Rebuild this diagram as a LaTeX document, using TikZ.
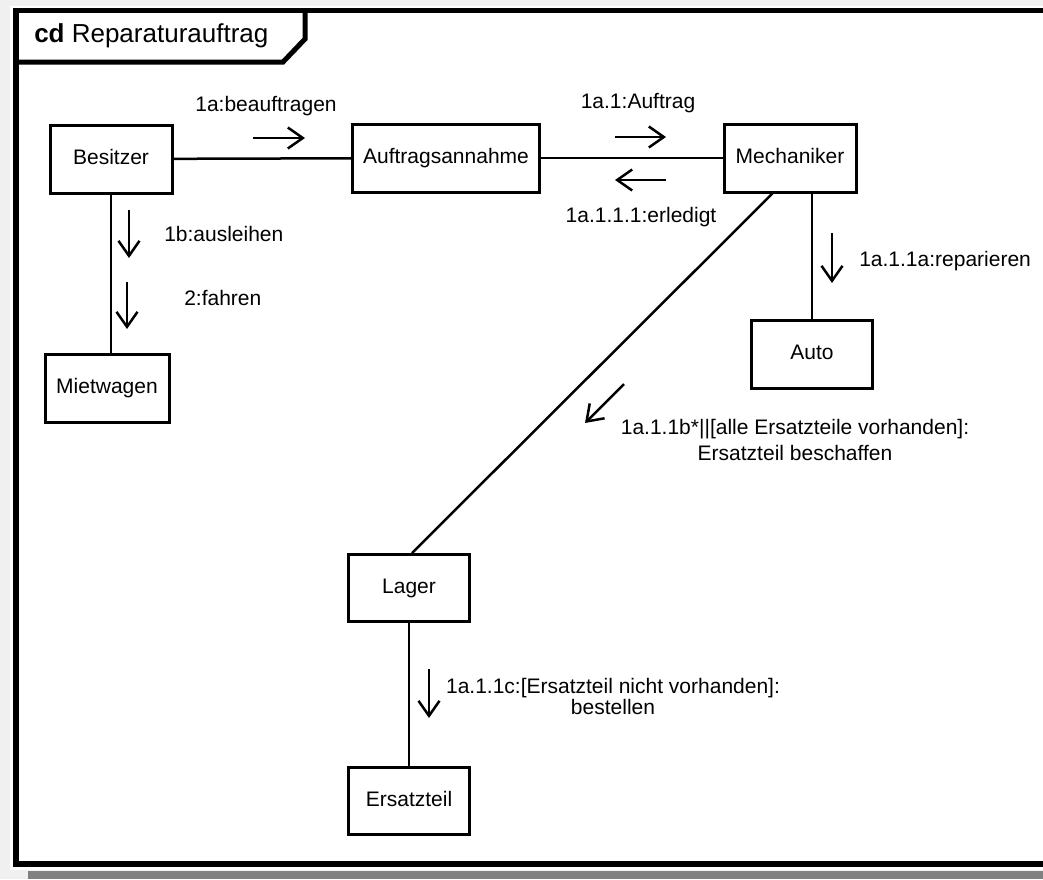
\documentclass[tikz,border=0pt]{standalone}
\usepackage{fontspec}
\setmainfont{Liberation Sans}
\usetikzlibrary{arrows.meta,calc}

\definecolor{bggray}{HTML}{F0F0F0}
\definecolor{shadowgray}{HTML}{808080}

\begin{document}
\begin{tikzpicture}[x=1pt, y=-1pt, line width=2.5pt,
  font=\fontsize{21}{26}\selectfont,
  box/.style={draw, line width=3pt, fill=white, minimum height=68pt, inner sep=0pt,
    text height=15pt, text depth=4pt},
  msg/.style={-{Straight Barb[length=15pt,width=21pt]}},
  lbl/.style={align=center, inner sep=0pt}]

\useasboundingbox (0,0) rectangle (1043,879);
\fill [bggray] (0,0) rectangle (1043,879);
\fill [white] (10,6) rectangle (1043,870);
\fill [shadowgray] (28,871) rectangle (1043,879);

% frame and heading
\draw [line width=5.5pt] (1060,10.5) -- (16,10.5) -- (16,864) -- (1060,864);
\draw [line width=5pt] (16,62) -- (283,62) -- (305,39) -- (305,10.5);
\node (title) [anchor=west, inner sep=0pt, font=\fontsize{26}{30}\selectfont] at (33,36)
  {\textbf{cd} Reparaturauftrag};

% objects
\node (besitzer) [box, minimum width=122pt] at (111,159) {Besitzer};
\node (annahme) [box, minimum width=187pt] at (446,158) {Auftragsannahme};
\node (mechaniker) [box, minimum width=132pt] at (790,158) {Mechaniker};
\node (mietwagen) [box, minimum width=124pt] at (107,388) {Mietwagen};
\node (auto) [box, minimum width=121pt] at (812,354) {Auto};
\node (lager) [box, minimum width=121pt, minimum height=67pt] at (409,588) {Lager};
\node (ersatzteil) [box, minimum width=121pt, minimum height=67pt] at (409,801) {Ersatzteil};

% links
\draw (besitzer) -- (annahme);
\draw (annahme) -- (mechaniker);
\draw (besitzer.south) -- (besitzer.south |- mietwagen.north);
\draw (auto.north) -- (auto.north |- mechaniker.south);
\draw ($(mechaniker.south west)!0.37!(mechaniker.south east)$) -- ([xshift=3pt]lager.north);
\draw (lager) -- (ersatzteil);

% messages
\coordinate (m1a) at (253,138);
\coordinate (m1a1) at (615,137);
\coordinate (m1a111) at (666,180);
\coordinate (m1b) at (129,210);
\coordinate (m2) at (127,282);
\coordinate (m1a11a) at (832,233);
\coordinate (m1a11b) at (624,384);
\coordinate (m1a11c) at (429,669);

\draw [msg] (m1a) -- ++(52,0);
\draw [msg] (m1a1) -- ++(51,0);
\draw [msg] (m1a111) -- ++(-51,0);
\draw [msg] (m1b) -- ++(0,48);
\draw [msg] (m2) -- ++(0,47);
\draw [msg] (m1a11a) -- ++(0,50);
\draw [msg] (m1a11b) -- ++(-39,39);
\draw [msg] (m1a11c) -- ++(0,49);

\node (l1a) [lbl] at (266,106) {1a:beauftragen};
\node (l1a1) [lbl] at (638,103) {1a.1:Auftrag};
\node (l1a111) [lbl] at (641,217) {1a.1.1.1:erledigt};
\node (l1b) [lbl, anchor=west] at (163,234) {1b:ausleihen};
\node (l2) [lbl, anchor=west] at (183,298) {2:fahren};
\node (l1a11a) [lbl, anchor=west] at (858,261) {1a.1.1a:reparieren};
\node (l1a11b) [lbl] at (795,440)
  {1a.1.1b*||[alle Ersatzteile vorhanden]:\\Ersatzteil beschaffen};
\node (l1a11c) [lbl, font=\fontsize{21}{21}\selectfont] at (613,696)
  {1a.1.1c:[Ersatzteil nicht vorhanden]:\\bestellen};

\end{tikzpicture}
\end{document}
